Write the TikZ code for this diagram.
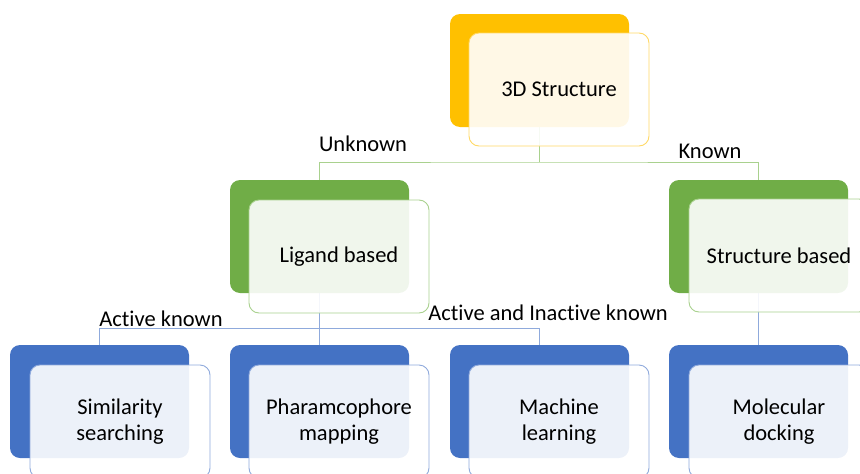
\documentclass[tikz,border=0pt]{standalone}
\usepackage{fontspec}
\setmainfont{Carlito}[Ligatures={NoCommon}]
\usetikzlibrary{backgrounds}
\definecolor{cY}{HTML}{FFC000}
\definecolor{cYl}{HTML}{FFD966}
\definecolor{cG}{HTML}{70AD47}
\definecolor{cGl}{HTML}{A9D18E}
\definecolor{cB}{HTML}{4472C4}
\definecolor{cBl}{HTML}{8FAADC}
\begin{document}
\begin{tikzpicture}[x=1pt,y=-1pt,
  back/.style={rounded corners=10pt, minimum width=179pt, minimum height=113pt, anchor=north west, inner sep=0pt, outer sep=0pt},
  front/.style={rounded corners=10pt, minimum width=180pt, minimum height=113pt, anchor=north west, inner sep=0pt, outer sep=0pt, fill=white, fill opacity=0.9, text opacity=1, line width=0.9pt, align=center, font=\fontsize{22.5}{25.5}\selectfont},
  lbl/.style={font=\fontsize{22.5}{26}\selectfont, anchor=base, inner sep=0pt},
  conn/.style={line width=1pt}]
\useasboundingbox (0,0) rectangle (860,474);
\clip (0,0) rectangle (860,474);
% level 1
\node[back, fill=cY] (b3d) at (450,14) {};
\node[front, draw=cYl] (f3d) at (469,33) {3D Structure};
% level 2
\node[back, fill=cG] (blig) at (230,180) {};
\node[front, draw=cGl] (flig) at (249,200) {Ligand based};
\node[back, fill=cG] (bstr) at (669,180) {};
\node[front, draw=cGl] (fstr) at (689,199) {Structure based};
% level 3
\node[back, fill=cB] (bsim) at (10,345) {};
\node[front, draw=cBl] (fsim) at (30,365) {Similarity\\searching};
\node[back, fill=cB] (bpha) at (230,345) {};
\node[front, draw=cBl] (fpha) at (249,365) {Pharamcophore\\mapping};
\node[back, fill=cB] (bml) at (450,345) {};
\node[front, draw=cBl] (fml) at (469,365) {Machine\\learning};
\node[back, fill=cB] (bdoc) at (669,345) {};
\node[front, draw=cBl] (fdoc) at (689,365) {Molecular\\docking};
% labels
\node[lbl] (lunk) at (363,151) {Unknown};
\node[lbl] (lkn) at (710,158) {Known};
\node[lbl] (lact) at (161,326) {Active known};
\node[lbl] (lai) at (548,320) {Active and Inactive known};
% connectors
\begin{pgfonlayer}{background}
\draw[conn, cGl] (b3d.south) -- ++(0,35) coordinate (j1);
\draw[conn, cGl] (blig.north) |- (j1) -| (bstr.north);
\draw[conn, cBl] (blig.south) -- ++(0,35) coordinate (j2);
\draw[conn, cBl] (j2) -| (bsim.north);
\draw[conn, cBl] (j2) -| (bml.north);
\draw[conn, cBl] (j2) -- (bpha.north);
\draw[conn, cBl] (bstr.south) -- (bdoc.north);
\end{pgfonlayer}
\end{tikzpicture}
\end{document}
